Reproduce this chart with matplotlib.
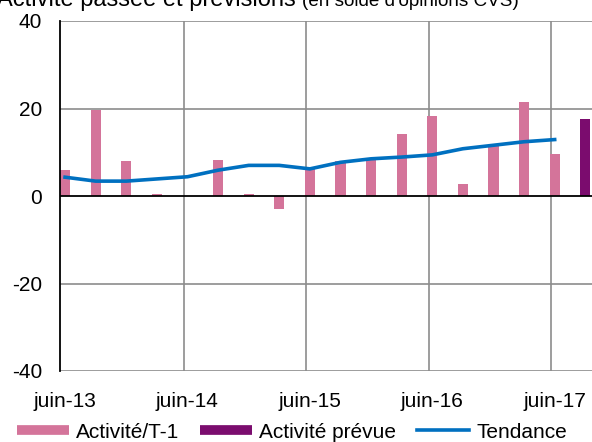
import numpy as np
import matplotlib
matplotlib.use('Agg')
import matplotlib.pyplot as plt
from matplotlib.lines import Line2D

plt.rcParams['font.family'] = ['Liberation Sans', 'DejaVu Sans']

# Quarterly data, juin-13 .. juin-17 + one forecast quarter
quarters = list(range(18))
activite_t1 = [6.0, 19.6, 7.9, 0.5, 0.1, 8.3, 0.5, -3.0, 6.2, 7.9, 8.6, 14.2, 18.3, 2.8, 11.5, 21.5, 9.7]
activite_prevue = [17.5]
tendance = [4.3, 3.4, 3.4, 3.9, 4.4, 5.9, 7.0, 7.0, 6.2, 7.7, 8.5, 8.9, 9.4, 10.8, 11.6, 12.4, 12.9]
tick_labels = ['juin-13', 'juin-14', 'juin-15', 'juin-16', 'juin-17']
tick_idx = [0, 4, 8, 12, 16]

pink = '#d4749a'
purple = '#7b0c6e'
blue = '#0070c0'
grid_c = '#8c8c8c'

fig = plt.figure(figsize=(5.92, 4.42), dpi=100)
ax = fig.add_axes([60 / 592, 1 - 371 / 442, 1 - 60 / 592, (371 - 21) / 442])

w = 0.33
ax.bar(quarters[:len(activite_t1)], activite_t1, width=w, color=pink, zorder=3)
ax.bar(quarters[len(activite_t1):], activite_prevue, width=w, color=purple, zorder=3)
ax.plot(quarters[:len(tendance)], tendance, color=blue, lw=2.6, zorder=4)

ax.set_xlim(-0.165, 17.22)
ax.set_ylim(-40, 40)

# gridlines
for y in [-40, -20, 20, 40]:
    ax.axhline(y, color=grid_c, lw=1.2, zorder=1)
ax.axhline(0, color='black', lw=1.3, zorder=5)
for i in tick_idx[1:]:
    ax.axvline(i - 0.11, color=grid_c, lw=1.2, zorder=1)

for s in ['top', 'right', 'bottom']:
    ax.spines[s].set_visible(False)
ax.spines['left'].set_color('black')
ax.spines['left'].set_linewidth(1.3)
ax.spines['left'].set_zorder(6)

ax.set_yticks([-40, -20, 0, 20, 40])
ax.set_yticklabels(['-40', '-20', '0', '20', '40'])
ax.set_xticks(tick_idx)
ax.set_xticklabels(tick_labels)
ax.tick_params(axis='y', length=0, pad=13, labelsize=15)
ax.tick_params(axis='x', length=0, pad=15, labelsize=15)

fig.text(-0.005, 1 - 6 / 442, 'Activité passée et prévisions', fontsize=17, va='baseline', ha='left')
fig.text(302 / 592, 1 - 6 / 442, "(en solde d'opinions CVS)", fontsize=13.6, va='baseline', ha='left')

handles = [Line2D([], [], color=pink, lw=7, solid_capstyle='butt'),
           Line2D([], [], color=purple, lw=7, solid_capstyle='butt'),
           Line2D([], [], color=blue, lw=2.6)]
fig.legend(handles, ['Activité/T-1', 'Activité prévue', 'Tendance'], loc='center',
           bbox_to_anchor=(292 / 592, 1 - 432 / 442), ncol=3, frameon=False, fontsize=15,
           handlelength=2.5, handletextpad=0.35, columnspacing=1.0, borderpad=0)

fig.savefig('out.png', dpi=100)
